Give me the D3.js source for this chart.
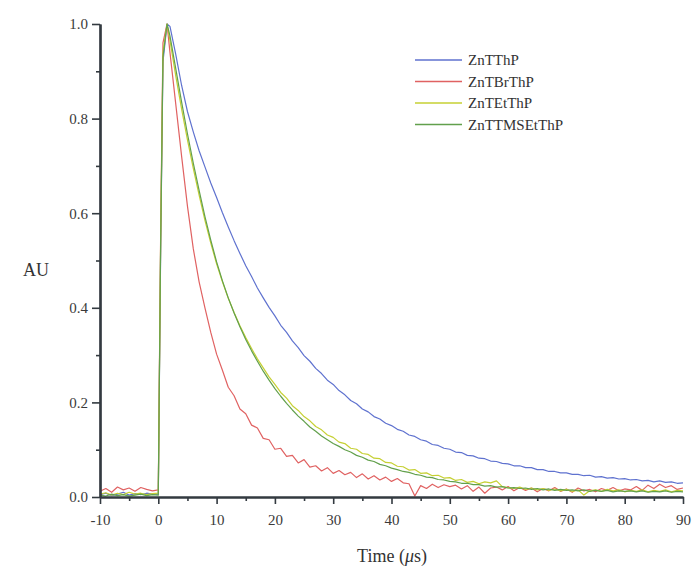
<!DOCTYPE html>
<html>
<head>
<meta charset="utf-8">
<script src="https://cdn.jsdelivr.net/npm/d3@7"></script>
<style>
  html, body { margin: 0; padding: 0; background: #ffffff; }
  svg { display: block; }
  text { font-family: "Liberation Serif", "DejaVu Serif", serif; }
</style>
</head>
<body>
<svg id="chart" width="692" height="572"></svg>
<script>
// Normalised luminescence decays (AU) against time in microseconds
const times = [-10,-9,-8,-7,-6,-5,-4,-3,-2,-1,0,0.4,0.8,1.5,2,
  3,4,5,6,7,8,9,10,11,12,13,14,15,16,17,18,19,20,21,22,23,24,25,26,27,28,29,30,
  31,32,33,34,35,36,37,38,39,40,41,42,43,44,45,46,47,48,49,50,51,52,53,54,55,56,57,58,59,60,
  61,62,63,64,65,66,67,68,69,70,71,72,73,74,75,76,77,78,79,80,81,82,83,84,85,86,87,88,89,90];

const seriesNames = ["ZnTThP", "ZnTBrThP", "ZnTEtThP", "ZnTTMSEtThP"];
const seriesColors = ["#5f72cf", "#e06262", "#c6d033", "#62a04c"];

const znTThP = [0.005,0.008,0.003,0.006,0.010,0.004,0.007,0.005,0.008,0.006,0.006,0.52,0.92,1.0,0.995,
  0.935,0.870,0.815,0.772,0.732,0.698,0.664,0.633,0.601,0.571,0.542,0.515,0.489,0.466,0.442,0.421,0.401,0.383,0.363,0.348,0.330,0.316,0.299,0.287,0.272,0.261,0.247,0.238,
  0.225,0.216,0.204,0.197,0.186,0.180,0.170,0.165,0.156,0.151,0.143,0.139,0.131,0.128,0.121,0.118,0.111,0.109,0.103,0.101,0.095,0.094,0.088,0.087,0.082,0.081,0.076,0.075,0.071,0.070,
  0.066,0.066,0.062,0.062,0.058,0.058,0.054,0.054,0.051,0.051,0.048,0.048,0.045,0.046,0.042,0.043,0.040,0.041,0.038,0.039,0.036,0.037,0.034,0.035,0.032,0.034,0.031,0.032,0.029,0.030];

const znTBrThP = [0.012,0.018,0.010,0.021,0.015,0.019,0.012,0.020,0.016,0.013,0.015,0.55,0.96,1.0,0.94,
  0.830,0.720,0.615,0.525,0.455,0.400,0.348,0.302,0.268,0.232,0.214,0.186,0.176,0.152,0.146,0.124,0.121,0.101,0.103,0.086,0.088,0.072,0.079,0.063,0.066,0.055,0.062,0.050,
  0.056,0.047,0.052,0.041,0.049,0.038,0.045,0.036,0.042,0.033,0.039,0.030,0.028,0.002,0.024,0.018,0.027,0.020,0.026,0.022,0.025,0.017,0.024,0.012,0.021,0.008,0.019,0.021,0.015,0.022,
  0.013,0.020,0.014,0.019,0.011,0.018,0.013,0.020,0.012,0.017,0.010,0.019,0.013,0.016,0.011,0.018,0.014,0.020,0.013,0.017,0.015,0.022,0.014,0.025,0.018,0.027,0.020,0.024,0.016,0.019];

const znTEtThP = [0.006,0.009,0.004,0.008,0.005,0.010,0.006,0.008,0.005,0.007,0.008,0.54,0.94,1.0,0.965,
  0.890,0.820,0.755,0.695,0.638,0.585,0.537,0.493,0.455,0.420,0.390,0.362,0.337,0.314,0.292,0.273,0.254,0.238,0.221,0.209,0.193,0.183,0.170,0.161,0.149,0.142,0.131,0.126,
  0.116,0.113,0.103,0.101,0.092,0.090,0.082,0.081,0.073,0.072,0.065,0.064,0.057,0.058,0.050,0.051,0.045,0.046,0.040,0.041,0.035,0.037,0.031,0.033,0.028,0.032,0.030,0.034,0.022,0.020,
  0.018,0.021,0.016,0.019,0.015,0.018,0.014,0.017,0.013,0.016,0.012,0.015,0.004,0.013,0.015,0.012,0.016,0.013,0.015,0.011,0.014,0.012,0.015,0.011,0.014,0.012,0.015,0.011,0.014,0.013];

const znTTMSEtThP = [0.004,0.002,0.006,0.003,0.005,0.002,0.004,0.006,0.003,0.005,0.004,0.53,0.93,1.0,0.975,
  0.905,0.835,0.768,0.706,0.648,0.593,0.543,0.497,0.457,0.421,0.389,0.360,0.333,0.309,0.287,0.266,0.247,0.229,0.213,0.198,0.184,0.171,0.160,0.148,0.139,0.129,0.121,0.113,
  0.107,0.100,0.095,0.088,0.084,0.078,0.075,0.069,0.066,0.061,0.058,0.054,0.052,0.048,0.046,0.042,0.041,0.037,0.036,0.033,0.032,0.029,0.029,0.026,0.026,0.023,0.024,0.021,0.022,0.019,
  0.020,0.018,0.019,0.016,0.018,0.015,0.017,0.014,0.016,0.014,0.015,0.013,0.015,0.012,0.014,0.012,0.014,0.011,0.013,0.012,0.013,0.011,0.013,0.010,0.012,0.011,0.013,0.010,0.012,0.011];

const seriesValues = [znTThP, znTBrThP, znTEtThP, znTTMSEtThP];

const xMajorTicks = [-10, 0, 10, 20, 30, 40, 50, 60, 70, 80, 90];
const xMinorTicks = [-5, 5, 15, 25, 35, 45, 55, 65, 75, 85];
const yMajorTicks = [0.0, 0.2, 0.4, 0.6, 0.8, 1.0];
const yMinorTicks = [0.1, 0.3, 0.5, 0.7, 0.9];

const svg = d3.select("#chart");
svg.append("rect").attr("width", 692).attr("height", 572).attr("fill", "#ffffff");

const x = d3.scaleLinear().domain([-10, 90]).range([100, 683]);
const y = d3.scaleLinear().domain([0, 1]).range([497, 24]);

// decay traces
const line = d3.line()
  .x((d, i) => x(times[i]))
  .y(d => y(d));

const traces = svg.append("g").attr("fill", "none");
seriesValues.forEach((vals, k) => {
  traces.append("path")
    .datum(vals)
    .attr("d", line)
    .attr("stroke", seriesColors[k])
    .attr("stroke-width", 1.2)
    .attr("stroke-linejoin", "round");
});

// axes
const axisColor = "#333a40";
function styleAxis(g, showText) {
  g.select(".domain").attr("stroke", axisColor).attr("stroke-width", 2.2);
  g.selectAll(".tick line").attr("stroke", axisColor).attr("stroke-width", 1.6);
  g.selectAll(".tick text")
    .attr("fill", "#3a3a3a")
    .style("font-family", "'Liberation Serif', serif")
    .style("font-size", "15px");
  if (!showText) g.selectAll(".tick text").remove();
}

// plain hyphen for negative tick labels
const xFmt = d => String(d).replace("\u2212", "-");

svg.append("g")
  .attr("transform", "translate(0,497)")
  .call(d3.axisBottom(x).tickValues(xMinorTicks).tickSize(4).tickSizeOuter(0).tickFormat(""))
  .call(g => styleAxis(g, false));
svg.append("g")
  .attr("transform", "translate(0,497)")
  .call(d3.axisBottom(x).tickValues(xMajorTicks).tickSize(7).tickSizeOuter(0).tickPadding(10).tickFormat(xFmt))
  .call(g => styleAxis(g, true));

svg.append("g")
  .attr("transform", "translate(100,0)")
  .call(d3.axisLeft(y).tickValues(yMinorTicks).tickSize(4).tickSizeOuter(0).tickFormat(""))
  .call(g => styleAxis(g, false));
svg.append("g")
  .attr("transform", "translate(100,0)")
  .call(d3.axisLeft(y).tickValues(yMajorTicks).tickSize(8).tickSizeOuter(0).tickPadding(4).tickFormat(d3.format(".1f")))
  .call(g => styleAxis(g, true));

// axis titles
svg.append("text")
  .attr("x", 36).attr("y", 276)
  .attr("text-anchor", "middle")
  .attr("fill", "#333")
  .style("font-size", "18px")
  .text("AU");

const xt = svg.append("text")
  .attr("x", 392).attr("y", 562)
  .attr("text-anchor", "middle")
  .attr("fill", "#333")
  .style("font-size", "18px");
xt.append("tspan").text("Time (");
xt.append("tspan").style("font-style", "italic").text("\u03bc");
xt.append("tspan").text("s)");

// legend
const legend = svg.append("g");
seriesNames.forEach((name, k) => {
  const ly = 60 + k * 21.5;
  legend.append("line")
    .attr("x1", 415).attr("x2", 462)
    .attr("y1", ly).attr("y2", ly)
    .attr("stroke", seriesColors[k])
    .attr("stroke-width", 1.4);
  legend.append("text")
    .attr("x", 468).attr("y", ly)
    .attr("dy", "0.35em")
    .attr("fill", "#333")
    .style("font-size", "15px")
    .text(name);
});
</script>
</body>
</html>
